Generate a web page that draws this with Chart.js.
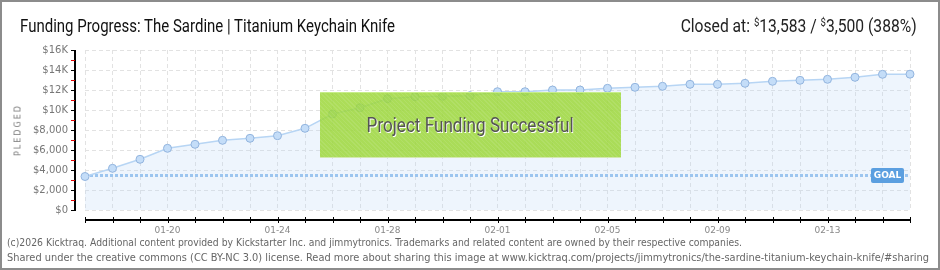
<!DOCTYPE html>
<html>
<head>
<meta charset="utf-8">
<script src="https://cdn.jsdelivr.net/npm/chart.js@4/dist/chart.umd.min.js"></script>
<style>
    html, body { margin: 0; padding: 0; background: #fff; }
    #wrap { position: relative; width: 940px; height: 270px; overflow: hidden; font-family: "Liberation Sans Narrow", Roboto, sans-serif; }
    #chart { position: absolute; left: 0; top: 0; }
    #frame { position: absolute; left: 0; top: 0; width: 940px; height: 270px; box-sizing: border-box; border: 2px solid #8c8c8c; pointer-events: none; }
    .txt { position: absolute; white-space: nowrap; }
    #title { left: 20px; top: 15px; font-size: 18px; line-height: 22px; color: #111; transform-origin: 0 50%; }
    #closed { right: 23px; top: 15px; font-size: 18px; line-height: 22px; color: #222; transform-origin: 100% 50%; }
    #closed sup { font-size: 11px; vertical-align: 6px; line-height: 0; }
    #ylabel { left: 18px; top: 130px; font-family: "DejaVu Sans", sans-serif; font-size: 8px; letter-spacing: 2px; color: #7a7a7a; transform: translate(-50%, -50%) rotate(-90deg); }
    #success { position: absolute; left: 320px; top: 92px; width: 301px; height: 66px; box-sizing: border-box;
        background-color: rgba(156, 214, 56, 0.84);
        background-image: repeating-linear-gradient(45deg, rgba(255,255,255,0.09) 0 1px, transparent 1px 3px);
        border-top: 1px solid rgba(200, 238, 140, 0.95); border-bottom: 1px solid #d3e8ae;
        display: flex; align-items: center; justify-content: center; }
    #successText { font-size: 20px; color: #555; text-shadow: 1px 1px 0 #fff; white-space: nowrap; transform-origin: 50% 50%; }
    .foot { left: 7px; font-family: "DejaVu Sans", sans-serif; font-size: 10px; line-height: 12px; color: #666; transform-origin: 0 50%; }
    #foot1 { top: 237px; }
    #foot2 { top: 252px; }
</style>
</head>
<body>
<div id="wrap">
    <canvas id="chart" width="940" height="270"></canvas>
    <div id="success"><span id="successText">Project Funding Successful</span></div>
    <div class="txt" id="title">Funding Progress: The Sardine | Titanium Keychain Knife</div>
    <div class="txt" id="closed">Closed at: <sup>$</sup>13,583 / <sup>$</sup>3,500 (388%)</div>
    <div class="txt" id="ylabel">PLEDGED</div>
    <div class="txt foot" id="foot1">(c)2026 Kicktraq. Additional content provided by Kickstarter Inc. and jimmytronics. Trademarks and related content are owned by their respective companies.</div>
    <div class="txt foot" id="foot2">Shared under the creative commons (CC BY-NC 3.0) license. Read more about sharing this image at www.kicktraq.com/projects/jimmytronics/the-sardine-titanium-keychain-knife/#sharing</div>
    <div id="frame"></div>
</div>
<script>
const days = [
    "01-17", "01-18", "01-19", "01-20", "01-21", "01-22", "01-23", "01-24",
    "01-25", "01-26", "01-27", "01-28", "01-29", "01-30", "01-31", "02-01",
    "02-02", "02-03", "02-04", "02-05", "02-06", "02-07", "02-08", "02-09",
    "02-10", "02-11", "02-12", "02-13", "02-14", "02-15", "02-16"
];
const pledged = [
    3350, 4170, 5070, 6170, 6570, 6970, 7170, 7430,
    8170, 9600, 10230, 11130, 11330, 11370, 11430, 11830,
    11830, 12000, 12000, 12170, 12270, 12370, 12570, 12570,
    12670, 12870, 12970, 13070, 13270, 13570, 13583
];
const xTickLabels = ["01-20", "01-24", "01-28", "02-01", "02-05", "02-09", "02-13"];
const yTicks = [0, 2000, 4000, 6000, 8000, 10000, 12000, 14000, 16000];
const yTickLabels = ["$0", "$2,000", "$4,000", "$6,000", "$8,000", "$10K", "$12K", "$14K", "$16K"];
const goalAmount = 3500;

// axes, goal line and goal tag drawn on top of Chart.js scales
const kickPlugin = {
    id: "kickAxes",
    beforeDatasetDraw(chart) {
        const { ctx, chartArea, scales } = chart;
        const gy = Math.round(scales.y.getPixelForValue(goalAmount)) + 0.5;
        ctx.save();
        ctx.strokeStyle = "#9cc5ef";
        ctx.lineWidth = 3;
        ctx.setLineDash([3, 2]);
        ctx.beginPath();
        ctx.moveTo(chartArea.left, gy);
        ctx.lineTo(chartArea.right, gy);
        ctx.stroke();
        ctx.restore();
    },
    afterDraw(chart) {
        const { ctx, chartArea, scales } = chart;
        const y = scales.y, x = scales.x;
        const axisX = chartArea.left - 10;
        const axisY = chartArea.bottom + 10;
        ctx.save();

        // y axis
        ctx.strokeStyle = "#000";
        ctx.lineWidth = 2;
        ctx.beginPath();
        ctx.moveTo(axisX, y.getPixelForValue(yTicks[yTicks.length - 1]));
        ctx.lineTo(axisX, y.getPixelForValue(0) + 1);
        ctx.stroke();
        ctx.lineWidth = 1;
        yTicks.forEach((v, i) => {
            const py = Math.round(y.getPixelForValue(v)) + 0.5;
            ctx.strokeStyle = "#000";
            ctx.beginPath();
            ctx.moveTo(axisX - 4, py);
            ctx.lineTo(axisX, py);
            ctx.stroke();
            if (i < yTicks.length - 1) {
                const my = Math.round(y.getPixelForValue((v + yTicks[i + 1]) / 2)) + 0.5;
                ctx.strokeStyle = "#e00000";
                ctx.beginPath();
                ctx.moveTo(axisX - 4, my);
                ctx.lineTo(axisX, my);
                ctx.stroke();
            }
        });

        // x axis
        ctx.strokeStyle = "#000";
        ctx.lineWidth = 2;
        ctx.beginPath();
        ctx.moveTo(chartArea.left, axisY);
        ctx.lineTo(chartArea.right + 1, axisY);
        ctx.stroke();
        ctx.lineWidth = 1;
        days.forEach((d, i) => {
            const px = Math.round(x.getPixelForValue(i)) + 0.5;
            ctx.beginPath();
            ctx.moveTo(px, axisY - 3);
            ctx.lineTo(px, axisY + 3);
            ctx.stroke();
        });

        // goal tag
        const gy = Math.round(y.getPixelForValue(goalAmount)) + 0.5;
        const w = 33, h = 15;
        const bx = chartArea.right - 6 - w;
        const by = gy - h / 2;
        ctx.fillStyle = "#5b9fe0";
        ctx.beginPath();
        ctx.roundRect(bx, by, w, h, 2);
        ctx.fill();
        ctx.fillStyle = "#fff";
        ctx.font = "bold 9px 'DejaVu Sans', sans-serif";
        ctx.textAlign = "center";
        ctx.textBaseline = "middle";
        ctx.fillText("GOAL", bx + w / 2, gy + 0.5);
        ctx.restore();
    }
};

new Chart(document.getElementById("chart"), {
    type: "line",
    data: {
        labels: days,
        datasets: [{
            label: "Pledged",
            data: pledged,
            borderColor: "#b7d5f4",
            borderWidth: 1.5,
            backgroundColor: "rgba(186, 214, 246, 0.25)",
            fill: "origin",
            tension: 0,
            pointRadius: 4,
            pointBackgroundColor: "#c4ddf8",
            pointBorderColor: "#92b4de",
            pointBorderWidth: 1,
            clip: false
        }]
    },
    options: {
        responsive: false,
        animation: false,
        events: [],
        layout: { padding: { top: 50, right: 30, left: 0, bottom: 0 } },
        plugins: {
            legend: { display: false },
            tooltip: { enabled: false }
        },
        scales: {
            x: {
                offset: false,
                grid: { color: "#e2e2e2", lineWidth: 1, drawTicks: false },
                border: { display: false, dash: [4, 3] },
                ticks: {
                    autoSkip: false,
                    maxRotation: 0,
                    padding: 15,
                    color: "#888",
                    font: { family: "'DejaVu Sans', sans-serif", size: 9 },
                    callback: function (value) {
                        const lbl = days[value];
                        return xTickLabels.includes(lbl) ? lbl : "";
                    }
                },
                afterFit(scale) { scale.height = 60; }
            },
            y: {
                min: 0,
                max: 16000,
                grid: { color: "#e2e2e2", lineWidth: 1, drawTicks: false },
                border: { display: false, dash: [4, 3] },
                ticks: {
                    stepSize: 2000,
                    padding: 17,
                    color: "#777",
                    font: { family: "'DejaVu Sans', sans-serif", size: 10 },
                    callback: function (value) {
                        const i = yTicks.indexOf(value);
                        return i >= 0 ? yTickLabels[i] : "";
                    }
                },
                afterFit(scale) { scale.width = 85; }
            }
        }
    },
    plugins: [kickPlugin]
});

function fitText(id, width) {
    const el = document.getElementById(id);
    const cur = el.getBoundingClientRect().width;
    if (cur > 0) el.style.transform = "scaleX(" + (width / cur) + ")";
}
fitText("title", 375);
fitText("closed", 236);
fitText("successText", 207);
fitText("foot1", 735);
fitText("foot2", 922);
</script>
</body>
</html>
